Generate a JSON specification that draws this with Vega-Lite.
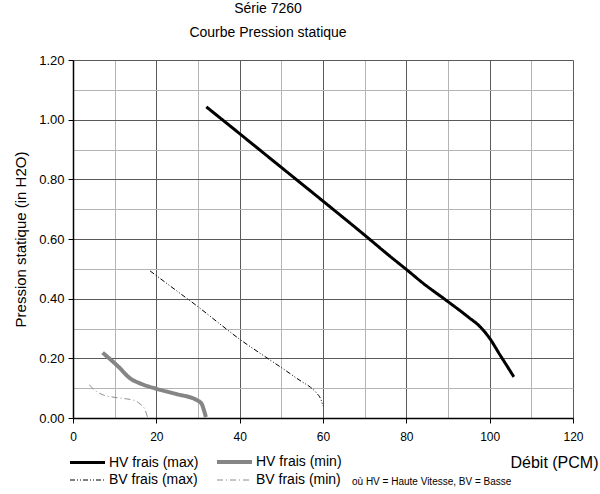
{
  "$schema": "https://vega.github.io/schema/vega-lite/v6.json",
  "width": 500,
  "height": 358,
  "autosize": "none",
  "padding": {"left": 73, "top": 60, "right": 27, "bottom": 76},
  "title": {
    "text": ["Série 7260", "Courbe Pression statique"],
    "fontSize": 14,
    "fontWeight": "normal",
    "font": "Liberation Sans",
    "lineHeight": 24,
    "anchor": "middle",
    "dx": -55,
    "offset": 14,
    "color": "#000000"
  },
  "config": {
    "view": {"stroke": null},
    "font": "Liberation Sans",
    "axis": {"labelFont": "Liberation Sans", "titleFont": "Liberation Sans"},
    "legend": {"labelFont": "Liberation Sans", "titleFont": "Liberation Sans"}
  },
  "data": {
    "values": [
      {"serie": "HV frais (max)", "debit": 32, "pression": 1.043},
      {"serie": "HV frais (max)", "debit": 40, "pression": 0.953},
      {"serie": "HV frais (max)", "debit": 50, "pression": 0.840},
      {"serie": "HV frais (max)", "debit": 60, "pression": 0.727},
      {"serie": "HV frais (max)", "debit": 70, "pression": 0.613},
      {"serie": "HV frais (max)", "debit": 76, "pression": 0.543},
      {"serie": "HV frais (max)", "debit": 80, "pression": 0.498},
      {"serie": "HV frais (max)", "debit": 84, "pression": 0.452},
      {"serie": "HV frais (max)", "debit": 90, "pression": 0.390},
      {"serie": "HV frais (max)", "debit": 95, "pression": 0.337},
      {"serie": "HV frais (max)", "debit": 97.7, "pression": 0.306},
      {"serie": "HV frais (max)", "debit": 100, "pression": 0.267},
      {"serie": "HV frais (max)", "debit": 102.5, "pression": 0.211},
      {"serie": "HV frais (max)", "debit": 104, "pression": 0.178},
      {"serie": "HV frais (max)", "debit": 105.8, "pression": 0.138},
      {"serie": "HV frais (min)", "debit": 7.1, "pression": 0.219},
      {"serie": "HV frais (min)", "debit": 10.9, "pression": 0.172},
      {"serie": "HV frais (min)", "debit": 13.7, "pression": 0.133},
      {"serie": "HV frais (min)", "debit": 16.1, "pression": 0.116},
      {"serie": "HV frais (min)", "debit": 20, "pression": 0.098},
      {"serie": "HV frais (min)", "debit": 24.9, "pression": 0.080},
      {"serie": "HV frais (min)", "debit": 29.7, "pression": 0.060},
      {"serie": "HV frais (min)", "debit": 30.9, "pression": 0.047},
      {"serie": "HV frais (min)", "debit": 31.4, "pression": 0.027},
      {"serie": "HV frais (min)", "debit": 31.9, "pression": 0.003},
      {"serie": "BV frais (max)", "debit": 18.5, "pression": 0.493},
      {"serie": "BV frais (max)", "debit": 25, "pression": 0.425},
      {"serie": "BV frais (max)", "debit": 30, "pression": 0.373},
      {"serie": "BV frais (max)", "debit": 35, "pression": 0.318},
      {"serie": "BV frais (max)", "debit": 40, "pression": 0.264},
      {"serie": "BV frais (max)", "debit": 45, "pression": 0.216},
      {"serie": "BV frais (max)", "debit": 50, "pression": 0.169},
      {"serie": "BV frais (max)", "debit": 55, "pression": 0.121},
      {"serie": "BV frais (max)", "debit": 57, "pression": 0.103},
      {"serie": "BV frais (max)", "debit": 58.5, "pression": 0.083},
      {"serie": "BV frais (max)", "debit": 59.5, "pression": 0.062},
      {"serie": "BV frais (max)", "debit": 60, "pression": 0.040},
      {"serie": "BV frais (min)", "debit": 3.9, "pression": 0.111},
      {"serie": "BV frais (min)", "debit": 5.7, "pression": 0.088},
      {"serie": "BV frais (min)", "debit": 7.3, "pression": 0.077},
      {"serie": "BV frais (min)", "debit": 10.1, "pression": 0.069},
      {"serie": "BV frais (min)", "debit": 12.9, "pression": 0.064},
      {"serie": "BV frais (min)", "debit": 14.9, "pression": 0.058},
      {"serie": "BV frais (min)", "debit": 16.1, "pression": 0.047},
      {"serie": "BV frais (min)", "debit": 17.3, "pression": 0.027},
      {"serie": "BV frais (min)", "debit": 17.9, "pression": 0.002}
    ]
  },
  "mark": {"type": "line", "interpolate": "monotone"},
  "encoding": {
    "x": {
      "field": "debit",
      "type": "quantitative",
      "scale": {"domain": [0, 120], "nice": false},
      "axis": {
        "values": [0, 10, 20, 30, 40, 50, 60, 70, 80, 90, 100, 110, 120],
        "labelExpr": "round(datum.value) % 20 == 0 ? datum.label : ''",
        "labelFontSize": 12,
        "labelColor": "#000000",
        "labelPadding": 8,
        "labelFlush": false,
        "tickSize": 5,
        "tickColor": "#000000",
        "tickOpacity": {"condition": {"test": "round(datum.value) % 20 == 0", "value": 1}, "value": 0},
        "domainColor": "#000000",
        "domainWidth": 1.5,
        "grid": true,
        "gridColor": {"condition": {"test": "round(datum.value) % 20 == 0", "value": "#5a5a5a"}, "value": "#b4b4b4"},
        "gridOpacity": 1,
        "title": "Débit (PCM)",
        "titleFontSize": 16,
        "titleFontWeight": "normal",
        "titleColor": "#000000",
        "titleAnchor": "end",
        "titleAlign": "right",
        "titleBaseline": "middle",
        "titleX": 525,
        "titleY": 44
      }
    },
    "y": {
      "field": "pression",
      "type": "quantitative",
      "scale": {"domain": [0, 1.2], "nice": false},
      "axis": {
        "values": [0, 0.1, 0.2, 0.3, 0.4, 0.5, 0.6, 0.7, 0.8, 0.9, 1.0, 1.1, 1.2],
        "format": ".2f",
        "labelExpr": "round(datum.value * 10) % 2 == 0 ? datum.label : ''",
        "labelFontSize": 13,
        "labelColor": "#000000",
        "labelPadding": 4,
        "labelFlush": false,
        "tickSize": 5,
        "tickColor": "#000000",
        "tickOpacity": {"condition": {"test": "round(datum.value * 10) % 2 == 0", "value": 1}, "value": 0},
        "domainColor": "#000000",
        "domainWidth": 1.5,
        "grid": true,
        "gridColor": {"condition": {"test": "round(datum.value * 10) % 2 == 0", "value": "#5a5a5a"}, "value": "#b4b4b4"},
        "gridOpacity": 1,
        "title": "Pression statique (in H2O)",
        "titleFontSize": 15,
        "titleFontWeight": "normal",
        "titleColor": "#000000",
        "titlePadding": 10
      }
    },
    "color": {
      "field": "serie",
      "type": "nominal",
      "scale": {
        "domain": ["HV frais (max)", "BV frais (max)", "HV frais (min)", "BV frais (min)"],
        "range": ["#000000", "#000000", "#858585", "#8c8c8c"]
      },
      "legend": {
        "orient": "none",
        "legendX": -5,
        "legendY": 395,
        "columns": 2,
        "symbolType": "M-1,0H6",
        "symbolSize": 100,
        "labelFontSize": 14,
        "labelColor": "#000000",
        "labelOffset": 27,
        "columnPadding": 10,
        "rowPadding": 3,
        "title": "où HV = Haute Vitesse, BV = Basse",
        "titleOrient": "right",
        "titleAnchor": "end",
        "titleFontSize": 10,
        "titleFontWeight": "normal",
        "titleColor": "#000000",
        "titlePadding": 10
      }
    },
    "strokeWidth": {
      "field": "serie",
      "type": "nominal",
      "scale": {
        "type": "ordinal",
        "domain": ["HV frais (max)", "BV frais (max)", "HV frais (min)", "BV frais (min)"],
        "range": [3, 1, 4, 1]
      }
    },
    "strokeDash": {
      "field": "serie",
      "type": "nominal",
      "scale": {
        "domain": ["HV frais (max)", "BV frais (max)", "HV frais (min)", "BV frais (min)"],
        "range": [[1, 0], [5, 2, 1, 2, 1, 2], [1, 0], [6, 3, 1, 3]]
      }
    }
  }
}
